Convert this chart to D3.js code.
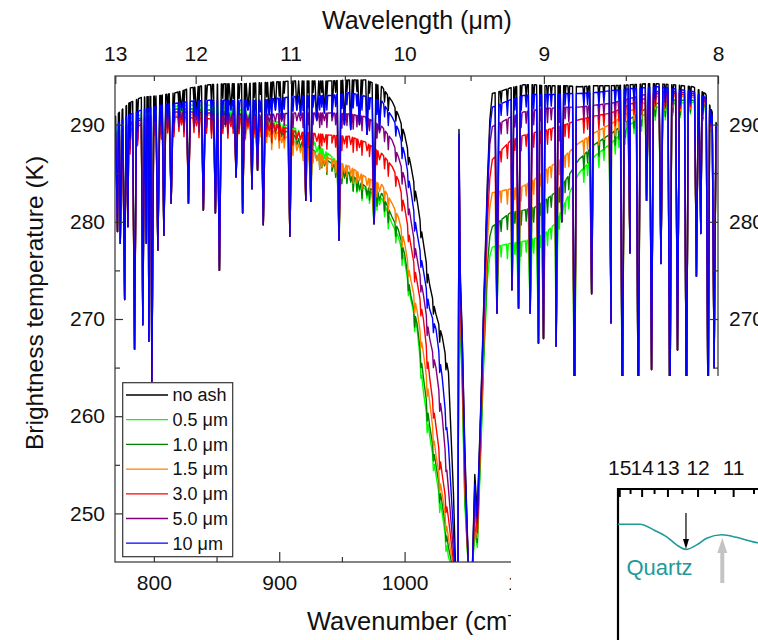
<!DOCTYPE html>
<html>
<head>
<meta charset="utf-8">
<script src="https://cdn.jsdelivr.net/npm/d3@7"></script>
<style>
  body { margin: 0; background: #fff; }
</style>
</head>
<body>
<div id="chart"></div>
<script>
// knots of the upper envelope (cm-1)
var wavenumber = [769, 772, 780, 790, 805, 818, 830, 844, 857, 870,
  884, 898, 913, 928, 942, 956, 969, 982, 990, 995,
  1000, 1005, 1010, 1015, 1020, 1025, 1030, 1035, 1039, 1041,
  1042.6, 1043.4, 1044.4, 1046, 1048, 1051, 1054, 1056, 1058, 1061,
  1063, 1066, 1068, 1070, 1078, 1085, 1095, 1104, 1112, 1120,
  1128, 1139, 1152, 1165, 1180, 1192, 1202, 1215, 1230, 1240, 1249];

// brightness temperature (K) of each case at those knots
var noAsh = [290.8, 291.2, 292.2, 292.8, 293.0, 293.3, 293.8, 294.1, 294.2, 294.2, 294.3, 294.4, 294.5, 294.5, 294.5, 294.6, 294.6, 293.9, 292.4, 291.0, 289.0, 285.8, 282.2, 277.8, 273.5, 270.5, 268.2,
  264.5, 252, 243, 243, 289.5, 275, 268, 257, 244, 244, 254, 250, 262, 271, 284, 290.5,
  293.2, 293.5, 293.8, 294.1, 294.1, 294.0, 294.0, 294.0, 293.9, 294.0, 294.0, 294.1, 294.2, 294.2, 294.1, 293.9, 293.2, 290.0];
var ash05 = [289.6, 289.9, 290.6, 291.0, 291.6, 291.9, 292.0, 292.0, 291.8, 291.5, 291.0, 290.3, 289.6, 288.2, 286.7, 285.0, 283.3, 282.4, 279.8, 278.5, 276.0, 272.0, 269.0, 262.5, 258.0, 254.0, 250.0,
  245.5, 244, 243, 243, 286.5, 269, 263, 251, 244, 244, 248, 246.5, 257, 265, 274, 276.5,
  277.4, 277.6, 277.8, 278.0, 278.3, 278.8, 279.8, 282.0, 285.0, 286.8, 288.1, 290.0, 291.1, 291.8, 292.2, 292.3, 291.8, 288.6];
var ash10 = [289.2, 289.5, 290.2, 290.7, 291.3, 291.6, 291.6, 291.5, 291.3, 291.0, 290.5, 289.8, 288.8, 287.3, 286.0, 285.0, 283.6, 282.9, 280.5, 279.2, 276.7, 272.4, 269.5, 264.0, 259.0, 255.0, 251.0,
  246.5, 244, 243, 243, 287, 270, 264, 252, 244, 244, 249, 247, 258, 266, 275.5, 278.5,
  279.5, 280.3, 281.0, 281.2, 281.5, 282.2, 283.0, 284.2, 286.4, 288.0, 289.1, 290.6, 291.6, 292.2, 292.5, 292.5, 292.0, 288.8];
var ash15 = [288.6, 289.0, 289.7, 290.2, 290.7, 291.0, 291.0, 291.0, 290.8, 290.5, 290.0, 289.2, 288.2, 287.2, 286.4, 285.7, 284.6, 283.8, 281.9, 280.5, 277.8, 274.0, 270.8, 266.5, 261.5, 256.0, 252.0,
  247.5, 244.5, 243, 243, 287.5, 271, 265, 253, 244, 244, 250, 247.5, 259, 267, 278, 281.5,
  283.0, 283.2, 283.4, 283.7, 284.4, 285.3, 286.0, 286.8, 288.1, 289.2, 290.1, 291.4, 292.3, 292.9, 293.0, 292.8, 292.2, 289.0];
var ash30 = [288.3, 288.7, 289.4, 290.0, 290.5, 290.8, 290.7, 290.6, 290.6, 290.6, 290.5, 290.0, 289.3, 289.1, 288.9, 288.8, 288.2, 287.0, 285.7, 284.3, 281.5, 277.6, 273.8, 270.0, 264.0, 259.0, 254.0,
  249.5, 245, 243, 243, 288, 272, 266, 254, 244, 244, 251, 248, 260, 268.5, 280, 284.5,
  286.4, 287.5, 288.4, 288.9, 289.2, 289.4, 289.7, 290.0, 290.5, 290.9, 291.2, 292.1, 292.7, 293.2, 293.2, 293.0, 292.4, 289.2];
var ash50 = [289.0, 289.4, 290.0, 290.5, 291.0, 291.3, 291.3, 291.2, 291.1, 291.1, 291.0, 291.1, 291.2, 291.2, 291.2, 291.1, 290.8, 289.8, 288.4, 286.7, 284.5, 280.2, 276.2, 272.5, 268.0, 265.0, 260.0,
  252.5, 246, 243, 243, 288.5, 273, 267, 255, 244, 244, 252, 249, 261, 270, 282, 288,
  289.8, 290.3, 290.8, 291.3, 291.5, 291.7, 291.7, 291.8, 291.8, 292.0, 292.2, 292.7, 293.1, 293.4, 293.4, 293.2, 292.6, 289.4];
var ash100 = [289.8, 290.2, 291.0, 291.5, 292.0, 292.2, 292.4, 292.5, 292.5, 292.5, 292.5, 292.7, 292.9, 293.0, 293.0, 293.3, 292.9, 292.4, 290.8, 289.5, 287.0, 283.2, 278.8, 275.0, 271.0, 269.0, 264.0,
  257, 248, 243, 243, 289, 274, 268, 256, 244, 244, 253, 249.5, 261.5, 270.5, 283, 289.5,
  291.8, 292.2, 292.6, 293.0, 293.1, 293.1, 293.1, 293.2, 293.2, 293.3, 293.5, 293.7, 293.8, 293.9, 293.7, 293.4, 292.8, 289.6];

var seriesNames = ["no ash", "0.5 μm", "1.0 μm", "1.5 μm", "3.0 μm", "5.0 μm", "10 μm"];
var seriesColors = ["#000000", "#00ff00", "#008000", "#ff8000", "#ff0000", "#800080", "#0000ff"];
var seriesValues = [noAsh, ash05, ash10, ash15, ash30, ash50, ash100];

// absorption lines: [wavenumber, bottom temperature]
var deepLines = [[771, 279], [773.2, 277.8], [776.7, 272.0], [779.3, 279.5], [784.6, 266.9], [791.2, 269.4], [794, 277.8], [796, 267.7],
  [798.4, 263.6], [803.2, 277.1], [808, 278.6], [813.8, 281.9], [822, 291.5], [827.6, 281.9], [834, 291.0], [839.5, 281.2],
  [849.1, 280.9], [852.3, 275.0], [857, 290.0], [861.5, 291.5], [865.6, 284.6], [870.8, 280.9], [875, 291.5], [878.3, 283.4],
  [882.7, 285.3], [887.3, 279.7], [892, 291.0], [897, 291.5], [902, 290.5], [908.5, 278.5], [914, 291.5], [917, 291.0],
  [921.2, 282.2], [925.2, 282.1], [930, 290.5], [936, 291.2], [942, 290.8], [947.7, 278.1], [952, 290.0], [957, 289.5],
  [964, 290.0], [970, 289.0], [975.6, 279.8], [980, 289.5],
  [1073.7, 270.6], [1085.6, 273.0], [1090.9, 271.1], [1100.2, 270.6], [1106.8, 267.5], [1110.8, 268.0], [1120.9, 267.2],
  [1125.4, 280.0], [1135.5, 258], [1149.2, 272.6], [1164.7, 269.6], [1173.7, 258], [1179.8, 276.8], [1186.4, 258],
  [1193, 282.2], [1197, 264.8], [1204.5, 275.7], [1211.6, 258], [1217.7, 266.8], [1224.8, 258], [1232.8, 274.4],
  [1236.3, 278.8], [1242.1, 258], [1246.9, 265]];
// weak lines: [wavenumber, depth below envelope (K)]
var weakLines = [[781, 2.5], [787, 2], [801, 1.5], [806, 2], [811, 1.5], [816, 2], [820, 1.5], [824, 2], [832, 1.5], [836, 2],
  [842, 1.5], [846, 2], [855, 1.5], [859, 2], [863.3, 1.5], [868, 1.5], [873, 2], [880, 1.5], [885, 1.2], [890, 1.5],
  [894, 2], [900, 1.5], [904, 1.2], [911, 1.5], [919, 1.5], [923, 1.2], [927, 1.2], [932.3, 1.5], [934, 1.2], [938, 1.5],
  [945, 1.2], [950, 1.5], [954, 1.2], [959, 1.5], [962, 1.2], [966, 1.5], [972, 1.2], [978, 1.5], [984, 1.2], [987, 1.5],
  [993, 1.2], [998, 1.5], [1003, 1.2], [1008, 1.5], [1013, 1.2], [1018, 1.5], [1023, 1.2], [1028, 1.5], [1033, 1.2],
  [1077, 1.2], [1082, 1.5], [1088, 1.2], [1093, 1.5], [1097, 1.2], [1103, 1.5], [1108.5, 1.2], [1114, 1.5], [1117, 1.2],
  [1123.5, 1.5], [1128, 1.2], [1131, 1.5], [1143, 1.5], [1146, 1.2], [1155, 1.5], [1159, 1.2], [1168, 1.5], [1171, 1.2],
  [1176, 1.5], [1183, 1.2], [1189, 1.5], [1200, 1.2], [1208, 1.5], [1214, 1.2], [1220, 1.5], [1228, 1.2], [1238, 1.5], [1244, 1.2]];

var tempMajor = [250, 260, 270, 280, 290];
var tempMinor = [255, 265, 275, 285];
var rightMajor = [270, 280, 290];
var rightMinor = [265, 275, 285];
var wnMajor = [800, 900, 1000, 1100];
var wnMinor = [850, 950, 1050];
var wlMajor = [13, 12, 11, 10, 9, 8];
var wlMinor = [12.5, 11.5, 10.5, 9.5, 8.5];

// inset (quartz)
var quartzWn = [664, 690, 711, 741.5, 767.6, 788.9, 808.7, 831.5, 852.8, 884.7, 916.6, 952, 962];
var quartzEmis = [0.930, 0.930, 0.930, 0.918, 0.905, 0.889, 0.880, 0.889, 0.902, 0.909, 0.904, 0.895, 0.893];
var insetWlMajor = [15, 14, 13, 12, 11];
var insetWlMinor = [14.5, 13.5, 12.5, 11.5, 10.5];

var FONT = "'Liberation Sans', Arial, Helvetica, sans-serif";
var W = 758, H = 640;
var plotL = 115, plotR = 718, plotT = 76, plotB = 562;

var svg = d3.select("#chart").append("svg")
    .attr("width", W)
    .attr("height", H)
    .style("font-family", FONT);

var x = d3.scaleLinear().domain([769, 1250]).range([plotL, plotR]);
var y = d3.scaleLinear().domain([245, 295]).range([plotB, plotT]);

svg.append("clipPath").attr("id", "plotclip")
  .append("rect")
    .attr("x", plotL).attr("y", plotT)
    .attr("width", plotR - plotL).attr("height", plotB - plotT);

// build the points of one spectrum: envelope knots plus the line dips
function spectrum(vals) {
  var env = d3.scaleLinear().domain(wavenumber).range(vals);
  var pts = wavenumber.map(function (w, i) { return [w, vals[i]]; });
  deepLines.forEach(function (l) {
    var hw = 1.5;
    pts.push([l[0] - hw, env(l[0] - hw)],
             [l[0], Math.min(l[1], env(l[0]) - 0.8)],
             [l[0] + hw, env(l[0] + hw)]);
  });
  weakLines.forEach(function (l) {
    var hw = 0.7;
    pts.push([l[0] - hw, env(l[0] - hw)],
             [l[0], env(l[0]) - l[1]],
             [l[0] + hw, env(l[0] + hw)]);
  });
  pts.sort(function (a, b) { return a[0] - b[0]; });
  return pts;
}

var line = d3.line()
    .x(function (d) { return x(d[0]); })
    .y(function (d) { return y(d[1]); });

svg.append("g")
    .attr("clip-path", "url(#plotclip)")
  .selectAll("path")
  .data(seriesValues)
  .enter().append("path")
    .attr("d", function (d) { return line(spectrum(d)); })
    .attr("fill", "none")
    .attr("stroke", function (d, i) { return seriesColors[i]; })
    .attr("stroke-width", 1.4)
    .attr("stroke-linejoin", "round");

// axes
function styleAxis(g) {
  g.attr("font-family", FONT).attr("font-size", 21);
  g.select(".domain").remove();
  g.selectAll("line").attr("stroke", "#333").attr("stroke-width", 1.2);
  g.selectAll("text").attr("fill", "#111");
}

svg.append("g").attr("transform", "translate(" + plotL + ",0)")
    .call(d3.axisLeft(y).tickValues(tempMajor).tickSize(-8).tickPadding(10))
    .call(styleAxis);
svg.append("g").attr("transform", "translate(" + plotL + ",0)")
    .call(d3.axisLeft(y).tickValues(tempMinor).tickSize(-5).tickFormat(""))
    .call(styleAxis);

svg.append("g").attr("transform", "translate(" + plotR + ",0)")
    .call(d3.axisRight(y).tickValues(rightMajor).tickSize(-8).tickPadding(11))
    .call(styleAxis);
svg.append("g").attr("transform", "translate(" + plotR + ",0)")
    .call(d3.axisRight(y).tickValues(rightMinor).tickSize(-5).tickFormat(""))
    .call(styleAxis);

svg.append("g").attr("transform", "translate(0," + plotB + ")")
    .call(d3.axisBottom(x).tickValues(wnMajor).tickSize(-10).tickPadding(13).tickFormat(d3.format("d")))
    .call(styleAxis);
svg.append("g").attr("transform", "translate(0," + plotB + ")")
    .call(d3.axisBottom(x).tickValues(wnMinor).tickSize(-5).tickFormat(""))
    .call(styleAxis);

svg.append("g").attr("transform", "translate(0," + plotT + ")")
    .call(d3.axisTop(x).tickValues(wlMajor.map(function (l) { return 10000 / l; }))
      .tickSize(-8).tickPadding(15)
      .tickFormat(function (d) { return d3.format(".0f")(10000 / d); }))
    .call(styleAxis);
svg.append("g").attr("transform", "translate(0," + plotT + ")")
    .call(d3.axisTop(x).tickValues(wlMinor.map(function (l) { return 10000 / l; }))
      .tickSize(-5).tickFormat(""))
    .call(styleAxis);

// frame
svg.append("rect")
    .attr("x", plotL).attr("y", plotT)
    .attr("width", plotR - plotL).attr("height", plotB - plotT)
    .attr("fill", "none").attr("stroke", "#333").attr("stroke-width", 1.2);

// titles
svg.append("text")
    .attr("x", 417).attr("y", 28.5)
    .attr("text-anchor", "middle")
    .attr("font-size", 25)
    .attr("fill", "#111")
    .text("Wavelength (μm)");

svg.append("text")
    .attr("transform", "translate(43,303) rotate(-90)")
    .attr("text-anchor", "middle")
    .attr("font-size", 24.5)
    .attr("fill", "#111")
    .text("Brightness temperature (K)");

var xt = svg.append("text")
    .attr("x", 307).attr("y", 630)
    .attr("font-size", 25.5)
    .attr("fill", "#111");
xt.append("tspan").text("Wavenumber (cm");
xt.append("tspan").attr("font-size", 16).attr("dy", -10).text("-1");
xt.append("tspan").attr("dy", 10).text(")");

// legend
var lg = svg.append("g");
lg.append("rect")
    .attr("x", 122.7).attr("y", 382.7)
    .attr("width", 110).attr("height", 174)
    .attr("fill", "#fff").attr("stroke", "#333").attr("stroke-width", 1.2);
var item = lg.selectAll(".item")
  .data(seriesNames)
  .enter().append("g")
    .attr("class", "item")
    .attr("transform", function (d, i) { return "translate(0," + (395 + i * 24.7) + ")"; });
item.append("line")
    .attr("x1", 126).attr("x2", 168)
    .attr("stroke", function (d, i) { return seriesColors[i]; })
    .attr("stroke-width", 1.3);
item.append("text")
    .attr("x", 172.5).attr("dy", "0.35em")
    .attr("font-size", 18)
    .attr("fill", "#111")
    .text(function (d) { return d; });

// white panel that overlaps the lower right corner
svg.append("rect")
    .attr("x", 511).attr("y", 376)
    .attr("width", W - 511).attr("height", H - 376)
    .attr("fill", "#fff");

// inset
var ix = d3.scaleLinear().domain([664, 962]).range([618, 758]);
var iy = d3.scaleLinear().domain([0.7, 1.0]).range([640, 489]);
var inset = svg.append("g");

inset.append("g").attr("transform", "translate(0,489)")
    .call(d3.axisTop(ix).tickValues(insetWlMajor.map(function (l) { return 10000 / l; }))
      .tickSize(-8).tickPadding(14)
      .tickFormat(function (d) { return d3.format(".0f")(10000 / d); }))
    .call(styleAxis)
    .call(function (g) { g.selectAll("line").attr("stroke", "#000").attr("stroke-width", 2); });
inset.append("g").attr("transform", "translate(0,489)")
    .call(d3.axisTop(ix).tickValues(insetWlMinor.map(function (l) { return 10000 / l; }))
      .tickSize(-5).tickFormat(""))
    .call(styleAxis)
    .call(function (g) { g.selectAll("line").attr("stroke", "#000").attr("stroke-width", 2); });

inset.append("path")
    .attr("d", "M618," + H + "V489H" + W)
    .attr("fill", "none").attr("stroke", "#000").attr("stroke-width", 2.2);

var teal = "#1e9a98";
inset.append("path")
    .datum(quartzWn.map(function (w, i) { return [w, quartzEmis[i]]; }))
    .attr("d", d3.line()
      .x(function (d) { return ix(d[0]); })
      .y(function (d) { return iy(d[1]); })
      .curve(d3.curveMonotoneX))
    .attr("fill", "none").attr("stroke", teal).attr("stroke-width", 1.6);

inset.append("text")
    .attr("x", 626.5).attr("y", 575)
    .attr("font-size", 22)
    .attr("fill", teal)
    .text("Quartz");

// black arrow to the quartz minimum
var ax = ix(808.7);
inset.append("line")
    .attr("x1", ax).attr("x2", ax).attr("y1", 513).attr("y2", 544)
    .attr("stroke", "#000").attr("stroke-width", 1.2);
inset.append("path")
    .attr("d", "M" + (ax - 3) + ",539L" + ax + ",549L" + (ax + 3) + ",539Z")
    .attr("fill", "#000");

// grey arrow
var gx = ix(886);
inset.append("line")
    .attr("x1", gx).attr("x2", gx).attr("y1", 583).attr("y2", 550)
    .attr("stroke", "#c4c4c4").attr("stroke-width", 4);
inset.append("path")
    .attr("d", "M" + (gx - 5) + ",553L" + gx + ",538L" + (gx + 5) + ",553Z")
    .attr("fill", "#c4c4c4");
</script>
</body>
</html>
